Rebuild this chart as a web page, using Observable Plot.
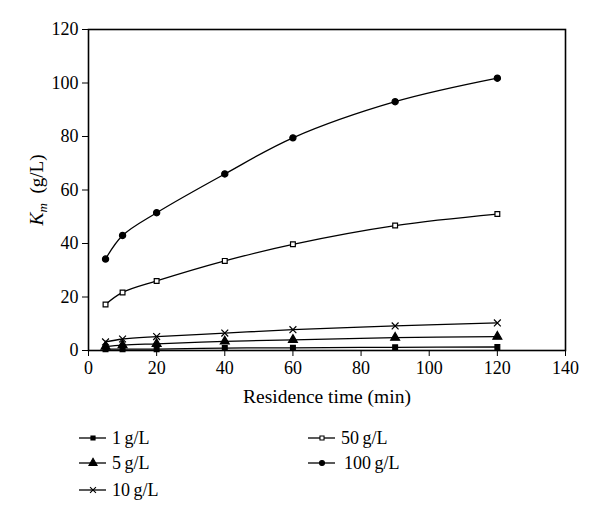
<!DOCTYPE html>
<html>
<head>
<meta charset="utf-8">
<script src="https://cdn.jsdelivr.net/npm/d3@7"></script>
<script src="https://cdn.jsdelivr.net/npm/@observablehq/plot@0.6"></script>
<style>
  body { margin: 0; background: #fff; }
  #chart svg { display: block; }
  #chart svg.plot text { font-size: 18px; font-family: 'Liberation Serif', 'DejaVu Serif', serif; fill: black; }
  #chart svg.plot g[aria-label="x-axis label"] text { font-size: 19.5px; }
</style>
</head>
<body>
<div id="chart"></div>
<script>
const times = [5, 10, 20, 40, 60, 90, 120];
const seriesNames = ["1 g/L", "5 g/L", "10 g/L", "50 g/L", "100 g/L"];
const k1   = [0.5, 0.5, 0.5, 0.9, 1.0, 1.2, 1.3];
const k5   = [1.5, 2.0, 2.5, 3.4, 4.0, 4.8, 5.2];
const k10  = [3.2, 4.3, 5.2, 6.5, 7.8, 9.2, 10.3];
const k50  = [17.2, 21.7, 26.0, 33.5, 39.7, 46.7, 51.0];
const k100 = [34.2, 43.0, 51.5, 66.0, 79.5, 93.0, 101.8];
const xTicks = [0, 20, 40, 60, 80, 100, 120, 140];
const yTicks = [0, 20, 40, 60, 80, 100, 120];

const values = [k1, k5, k10, k50, k100];
const symbols = ["square", "triangle", "times", "square", "circle"];
const fills = ["black", "black", "none", "white", "black"];
const sizes = [2.7, 3.3, 3.2, 2.7, 3.1];

const data = [];
seriesNames.forEach((s, i) => times.forEach((t, j) => data.push({series: s, idx: i, t, k: values[i][j]})));

const font = "'Liberation Serif', 'DejaVu Serif', serif";

const plot = Plot.plot({
  className: "plot",
  width: 600,
  height: 412,
  marginLeft: 88,
  marginRight: 35,
  marginTop: 29,
  marginBottom: 62,
  style: {fontFamily: font, fontSize: "18px", color: "black", background: "white"},
  x: {domain: [0, 140], ticks: xTicks, tickSize: 6, tickPadding: 5, label: "Residence time (min)", labelAnchor: "center", labelOffset: 52, labelArrow: "none"},
  y: {domain: [0, 120], ticks: yTicks, tickSize: 6, tickPadding: 4, label: null},
  marks: [
    Plot.frame({stroke: "black", strokeWidth: 1.6}),
    Plot.line(data, {x: "t", y: "k", z: "series", curve: "catmull-rom", stroke: "black", strokeWidth: 1.3}),
    ...seriesNames.map((s, i) => Plot.dot(data.filter(d => d.idx === i), {
      x: "t", y: "k", symbol: () => symbols[i], r: sizes[i],
      fill: fills[i], stroke: "black", strokeWidth: 1.2
    }))
  ]
});
document.getElementById("chart").appendChild(plot);

// Y axis title with italic K_m
const svg = d3.select(plot);
const yt = svg.append("text")
  .attr("transform", "translate(43,190) rotate(-90)")
  .attr("text-anchor", "middle")
  .attr("font-family", font)
  .attr("fill", "black");
yt.append("tspan").attr("font-style", "italic").style("font-size", "19.5px").text("K");
yt.append("tspan").attr("font-style", "italic").style("font-size", "13px").attr("dy", 4).text("m");
yt.append("tspan").attr("dy", -4).style("font-size", "19px").text("\u2002(g/L)");

// Legend
const legendItems = [
  {col: 0, row: 0}, {col: 0, row: 1}, {col: 0, row: 2}, {col: 1, row: 0}, {col: 1, row: 1}
];
const leg = d3.select("#chart").append("svg").attr("width", 600).attr("height", 103)
  .style("font-family", font).style("font-size", "18px");
const colX = [79, 308];
const rowY = [26, 51, 78];
const legSizes = [2.3, 3.0, 2.8, 2.3, 2.5];
seriesNames.forEach((s, i) => {
  const {col, row} = legendItems[i];
  const x0 = colX[col], y0 = rowY[row];
  const g = leg.append("g");
  g.append("line").attr("x1", x0).attr("x2", x0 + 27).attr("y1", y0).attr("y2", y0)
    .attr("stroke", "black").attr("stroke-width", 1.3);
  const symMap = {square: d3.symbolSquare, triangle: d3.symbolTriangle, times: d3.symbolTimes, circle: d3.symbolCircle};
  const area = Math.PI * Math.pow(legSizes[i], 2);
  g.append("path").attr("d", d3.symbol(symMap[symbols[i]], area)())
    .attr("transform", `translate(${x0 + 14},${y0})`)
    .attr("fill", fills[i]).attr("stroke", "black").attr("stroke-width", 1.1);
  g.append("text").attr("x", x0 + 33 + (i === 4 ? 3 : 0)).attr("y", y0).attr("dy", "0.33em")
    .text(s.replace(" ", "\u2009"));
});
</script>
</body>
</html>
